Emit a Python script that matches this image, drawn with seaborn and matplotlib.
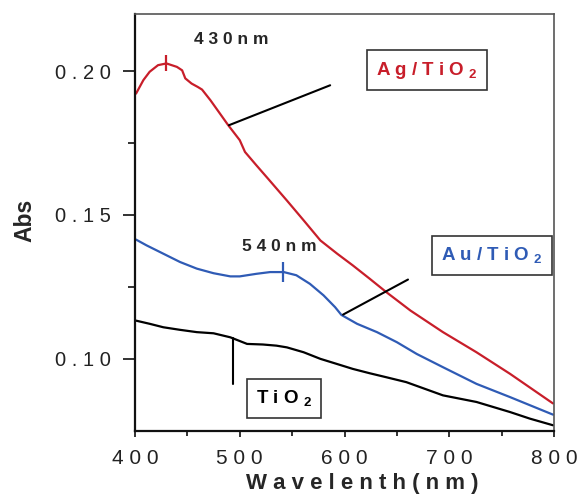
import matplotlib
matplotlib.use("Agg")
import matplotlib.pyplot as plt
import seaborn as sns
import pandas as pd
from matplotlib.ticker import FixedLocator

# ---------------- data ----------------
wl_ag = [401, 408, 414, 422, 430, 440, 445, 448, 454, 460, 464, 472, 481, 489, 500,
         505, 516, 527, 545, 561, 577, 593, 608, 624, 640, 663, 694, 726, 758, 799]
abs_ag = [0.1922, 0.1969, 0.1998, 0.2021, 0.2027, 0.2015, 0.2003, 0.1975, 0.1957, 0.1945,
          0.1936, 0.1899, 0.1853, 0.1812, 0.1760, 0.1719, 0.1672, 0.1626, 0.1550, 0.1481,
          0.1411, 0.1365, 0.1324, 0.1278, 0.1231, 0.1167, 0.1092, 0.1022, 0.0947, 0.0844]

wl_au = [401, 411, 427, 443, 459, 475, 491, 500, 516, 529, 542, 554, 567, 580, 591,
         597, 612, 631, 650, 669, 694, 726, 758, 799]
abs_au = [0.1414, 0.1394, 0.1365, 0.1336, 0.1313, 0.1297, 0.1286, 0.1286, 0.1295, 0.1301,
          0.1301, 0.1290, 0.1260, 0.1220, 0.1179, 0.1152, 0.1121, 0.1092, 0.1057, 0.1016,
          0.0970, 0.0912, 0.0866, 0.0805]

wl_ti = [401, 414, 427, 443, 459, 475, 491, 507, 522, 535, 545, 561, 577, 593, 608,
         624, 640, 659, 694, 726, 758, 777, 799]
abs_ti = [0.1132, 0.1121, 0.1109, 0.1100, 0.1092, 0.1088, 0.1074, 0.1051, 0.1049, 0.1045,
          0.1039, 0.1022, 0.0999, 0.0981, 0.0964, 0.0949, 0.0935, 0.0918, 0.0872, 0.0849,
          0.0814, 0.0791, 0.0768]

peak_wl = [430, 541]
peak_abs = [0.2030, 0.1302]

x_ticks = [400, 500, 600, 700, 800]
x_ticklabels = ["4 0 0", "5 0 0", "6 0 0", "7 0 0", "8 0 0"]
y_ticks = [0.10, 0.15, 0.20]
y_ticklabels = ["0 . 1 0", "0 . 1 5", "0 . 2 0"]

RED = "#c81e2a"
BLUE = "#2f5bb5"
BLACK = "#000000"

# ---------------- figure ----------------
sns.set_style("ticks")
plt.rcParams["font.family"] = ["Liberation Sans", "DejaVu Sans"]
plt.rcParams["mathtext.fontset"] = "custom"
plt.rcParams["mathtext.rm"] = "Liberation Sans"
plt.rcParams["mathtext.bf"] = "Liberation Sans:bold"

fig = plt.figure(figsize=(5.79, 4.98), dpi=100)
ax = fig.add_axes([135 / 579, 1 - 431 / 498, 419 / 579, 417 / 498])

df_ag = pd.DataFrame({"wl": wl_ag, "abs": abs_ag})
df_au = pd.DataFrame({"wl": wl_au, "abs": abs_au})
df_ti = pd.DataFrame({"wl": wl_ti, "abs": abs_ti})

sns.lineplot(data=df_ag, x="wl", y="abs", color=RED, lw=1.6, ax=ax, sort=False, estimator=None)
sns.lineplot(data=df_au, x="wl", y="abs", color=BLUE, lw=1.6, ax=ax, sort=False, estimator=None)
sns.lineplot(data=df_ti, x="wl", y="abs", color=BLACK, lw=1.6, ax=ax, sort=False, estimator=None)

# peak markers
ax.plot(peak_wl[0], peak_abs[0], marker="|", ms=12, mew=1.6, color=RED)
ax.plot(peak_wl[1], peak_abs[1], marker="|", ms=14, mew=1.6, color=BLUE)

ax.set_xlim(400, 800)
ax.set_ylim(0.0748, 0.2199)

ax.set_xticks(x_ticks)
ax.set_xticklabels(x_ticklabels, fontsize=15)
ax.xaxis.set_minor_locator(FixedLocator([450, 550, 650, 750]))
ax.set_yticks(y_ticks)
ax.set_yticklabels(y_ticklabels, fontsize=14.5)
ax.yaxis.set_minor_locator(FixedLocator([0.125, 0.175]))

ax.tick_params(axis="y", which="major", direction="out", length=8.5, width=1.3, pad=9, colors="#222222")
ax.tick_params(axis="y", which="minor", direction="out", length=5, width=1.3, colors="#222222")
ax.tick_params(axis="x", which="major", direction="out", length=4, width=1.3, pad=9, colors="#222222")
ax.tick_params(axis="x", which="minor", direction="out", length=3.5, width=1.3, colors="#222222")

for side in ["left", "bottom"]:
    ax.spines[side].set_color("#111111")
    ax.spines[side].set_linewidth(1.6)
for side in ["right", "top"]:
    ax.spines[side].set_visible(True)
    ax.spines[side].set_color("#555555")
    ax.spines[side].set_linewidth(1.2)

ax.set_xlabel("W a v e l e n t h ( n m )", fontsize=16, fontweight="bold")
ax.xaxis.label.set_va("center")
ax.xaxis.set_label_coords(0.542, -0.125)
ax.set_ylabel("Abs", fontsize=16.5, fontweight="bold")
ax.yaxis.label.set_va("center")
ax.yaxis.label.set_ha("center")
ax.yaxis.set_label_coords(-0.262, 0.506)

# peak labels
ax.text(491.6, 0.2111, "4 3 0 n m", ha="center", va="center", fontsize=12.5, fontweight="bold")
ax.text(538, 0.1391, "5 4 0 n m", ha="center", va="center", fontsize=12.5, fontweight="bold")

# boxed series labels
box = dict(boxstyle="square,pad=0.5", fc="white", ec="#333333", lw=1.2)
ax.text(678.8, 0.2003, r"A g / T i O $_{\mathbf{2}}$", ha="center", va="center",
        fontsize=13.5, fontweight="bold", color=RED, bbox=box)
ax.text(740.8, 0.1359, r"A u / T i O $_{\mathbf{2}}$", ha="center", va="center",
        fontsize=13.5, fontweight="bold", color=BLUE, bbox=box)
ax.text(542.2, 0.0861, r"T i O $_{\mathbf{2}}$", ha="center", va="center",
        fontsize=13.5, fontweight="bold", color=BLACK, bbox=box)

# leader lines
ax.plot([489.7, 586.3], [0.1812, 0.1951], color="black", lw=1.5)
ax.plot([598.6, 660.6], [0.1153, 0.1275], color="black", lw=1.5)
ax.plot([493.6, 493.6], [0.1070, 0.0913], color="black", lw=1.5)

fig.savefig("out.png", dpi=100)
